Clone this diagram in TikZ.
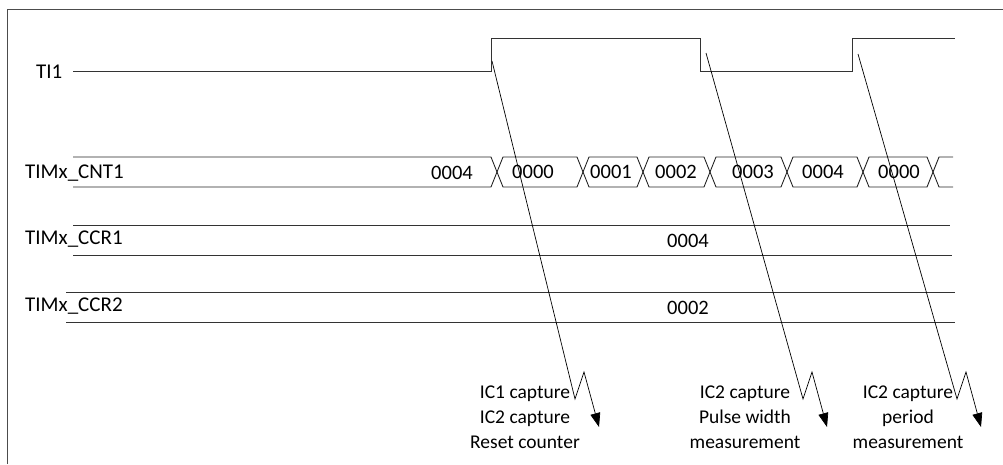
\documentclass[tikz,border=0pt]{standalone}
\usepackage{fontspec}
\setmainfont{Carlito}
\usetikzlibrary{arrows.meta}

\begin{document}
\begin{tikzpicture}[
  x=1pt, y=-1pt,
  sig/.style={line width=1pt, draw=black!80},
  bus/.style={line width=0.9pt, draw=black!85},
  reg/.style={line width=0.9pt, draw=black!80},
  signame/.style={font=\fontsize{21}{25}\selectfont, anchor=base west, inner sep=0pt},
  val/.style={font=\fontsize{20.5}{25}\selectfont, anchor=base, inner sep=0pt},
  note/.style={font=\fontsize{19.5}{25}\selectfont, align=center, anchor=north, inner sep=0pt},
  evt/.style={-{Triangle[length=14pt,width=10pt]}, line width=0.7pt}
]
\useasboundingbox (0,0) rectangle (1003,464);
\draw[line width=1pt, black!70] (7,464) -- (7,9) -- (1003,9);

% signal names
\node[signame] (ti1) at (36,78) {TI1};
\node[signame] (cnt1) at (25,178) {TIMx\_CNT1};
\node[signame] (ccr1) at (25,244) {TIMx\_CCR1};
\node[signame] (ccr2) at (25,311) {TIMx\_CCR2};

% TI1 waveform
\draw[sig] (73,71) -- (491,71) -- (491,38) -- (700,38) -- (700,71)
  -- (852,71) -- (852,38) -- (955,38);

% counter bus
\draw[bus] (73,157) -- (491,157) -- (497,172) -- (491,187) -- (73,187);
\node[val] (v0) at (452,179) {0004};
\foreach \a/\b/\v/\c [count=\i] in {497/583/0000/533, 583/643/0001/611,
    643/710/0002/676, 710/787/0003/753, 787/863/0004/823, 863/933/0000/899}{
  \draw[bus] (\a,172) -- (\a+6,157) -- (\b-6,157) -- (\b,172)
    -- (\b-6,187) -- (\a+6,187) -- cycle;
  \node[val] (v\i) at (\c,178) {\v};
}
\draw[bus] (953,157) -- (939,157) -- (933,172) -- (939,187) -- (953,187);

% capture registers
\draw[reg] (73,225) -- (950,225) (73,255) -- (952,255);
\node[val] (r1) at (688,247) {0004};
\draw[reg] (66,292) -- (955,292) (66,322) -- (955,322);
\node[val] (r2) at (688,314) {0002};

% capture events
\coordinate (e1) at (492,61);
\coordinate (e2) at (706,53);
\coordinate (e3) at (858,54);
\foreach \e/\x in {e1/575, e2/803, e3/957}{
  \coordinate (\e b) at (\x,399);
  \coordinate (\e t) at (\x+9,372);
  \coordinate (\e h) at (\x+24,427);
  \draw[evt] (\e) -- (\e b) -- (\e t) -- (\e h);
}

\node[note] (n1) at (525,386) {IC1 capture\\IC2 capture\\Reset counter};
\node[note] (n2) at (745,386) {IC2 capture\\Pulse width\\measurement};
\node[note] (n3) at (908,386) {IC2 capture\\period\\measurement};
\end{tikzpicture}
\end{document}
